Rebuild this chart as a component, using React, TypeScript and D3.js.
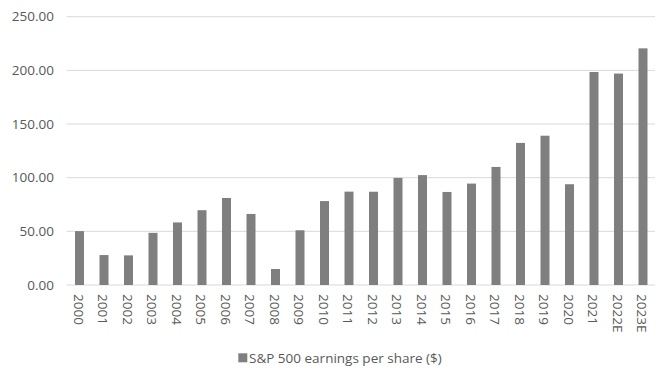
import React from "react";
import * as d3 from "d3";

const categories = ["2000","2001","2002","2003","2004","2005","2006","2007","2008","2009","2010","2011","2012","2013","2014","2015","2016","2017","2018","2019","2020","2021","2022E","2023E"];
const eps = [50.2,27.9,27.6,48.6,58.3,69.7,81.1,66.2,14.9,51.0,78.2,87.0,86.9,99.8,102.4,86.7,94.5,110.0,132.4,139.1,93.9,198.5,197.0,220.5];
const yTicks = [0, 50, 100, 150, 200, 250];
const seriesName = "S&P 500 earnings per share ($)";

export default function App() {
  const W = 666, H = 370;
  const left = 67.25, right = 655.25, top = 16.7, bottom = 285;
  const x = d3.scaleBand<string>().domain(categories).range([left, right]).paddingInner(0.633).paddingOuter(0.3165);
  const y = d3.scaleLinear().domain([0, 250]).range([bottom, top]);
  const font = "'Open Sans', 'Liberation Sans', sans-serif";
  const txt = "#595959";
  return (
    <svg width={W} height={H} style={{ position: "absolute", left: 0, top: 0, background: "#fff" }} fontFamily={font}>
      {yTicks.map(t => (
        <g key={t}>
          <line x1={66.7} x2={655} y1={y(t)} y2={y(t)} stroke="#d9d9d9" strokeWidth={1} />
          <text x={54} y={y(t)} dy="0.35em" textAnchor="end" fontSize={13.5} fill={txt}>{t.toFixed(2)}</text>
        </g>
      ))}
      {categories.map((c, i) => (
        <rect key={c} x={x(c)} width={x.bandwidth()} y={y(eps[i])} height={y(0) - y(eps[i])} fill="#7f7f7f" />
      ))}
      {categories.map(c => {
        const cx = (x(c) as number) + x.bandwidth() / 2;
        return (
          <text key={c} transform={`translate(${cx - 1},294) rotate(90)`} dy="0.35em" textAnchor="start" fontSize={13.5} fill={txt}>{c}</text>
        );
      })}
      <rect x={238.3} y={353.3} width={9} height={9} fill="#7f7f7f" />
      <text x={249} y={358} dy="0.35em" fontSize={13.5} fill={txt}>{seriesName}</text>
    </svg>
  );
}
